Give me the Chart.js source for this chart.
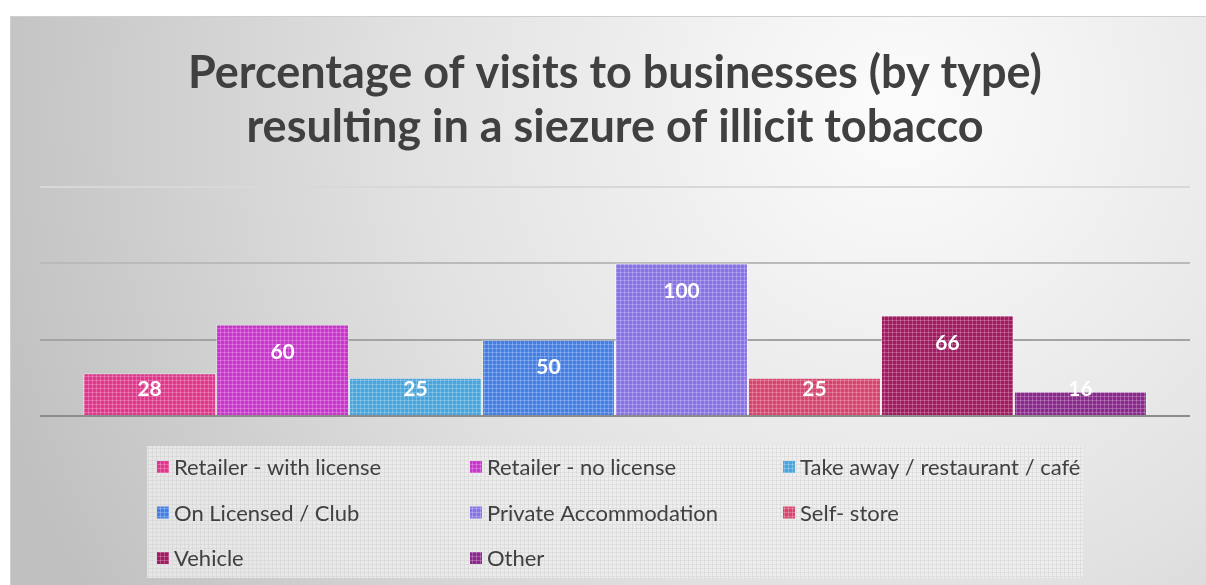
<!DOCTYPE html>
<html>
<head>
<meta charset="utf-8">
<script src="https://cdn.jsdelivr.net/npm/chart.js@4.4.0/dist/chart.umd.min.js"></script>
<style>
  html, body { margin: 0; padding: 0; background: #fff; }
  #wrap { width: 1206px; height: 585px; }
</style>
</head>
<body>
<div id="wrap"><canvas id="seizureChart" width="1206" height="585"></canvas></div>
<script>
// business types and % of visits resulting in a seizure
var businessTypes = ['Retailer - with license', 'Retailer - no license', 'Take away / restaurant / café',
  'On Licensed / Club', 'Private Accommodation', 'Self- store', 'Vehicle', 'Other'];
var seizurePct = [28, 60, 25, 50, 100, 25, 66, 16];
var barColors = ['#e2378d', '#c937cd', '#4aa6de', '#4680e4', '#8874e6', '#d8466f', '#a21c62', '#8b2a8e'];
var titleLines = ['Percentage of visits to businesses (by type)', 'resulting in a siezure of illicit tobacco'];

var FONT = 'Lato, "Open Sans", sans-serif';

// little textured fill like the office "weave" pattern
function makePattern(color) {
  var c = document.createElement('canvas');
  c.width = 4; c.height = 4;
  var g = c.getContext('2d');
  g.fillStyle = color;
  g.fillRect(0, 0, 4, 4);
  g.fillStyle = 'rgba(255,255,255,0.22)';
  g.fillRect(0, 0, 4, 1);
  g.fillRect(0, 0, 1, 4);
  g.fillStyle = 'rgba(0,0,0,0.06)';
  g.fillRect(2, 2, 1, 1);
  return g.createPattern(c, 'repeat');
}

var bgPlugin = {
  id: 'bgFrame',
  beforeDraw: function(chart) {
    var ctx = chart.ctx;
    ctx.save();
    ctx.fillStyle = '#ffffff';
    ctx.fillRect(0, 0, chart.width, chart.height);
    var grad = ctx.createRadialGradient(900, 110, 20, 900, 110, 950);
    grad.addColorStop(0, '#fbfbfb');
    grad.addColorStop(0.5, '#e2e2e2');
    grad.addColorStop(1, '#c0c0c0');
    ctx.fillStyle = grad;
    ctx.fillRect(10, 16, chart.width - 10, chart.height - 16);
    ctx.strokeStyle = '#cfcfcf';
    ctx.lineWidth = 1;
    ctx.beginPath();
    ctx.moveTo(10.5, chart.height);
    ctx.lineTo(10.5, 16.5);
    ctx.lineTo(chart.width, 16.5);
    ctx.stroke();
    ctx.restore();
  }
};

var labelPlugin = {
  id: 'barValues',
  afterDatasetsDraw: function(chart) {
    var ctx = chart.ctx;
    ctx.save();
    ctx.font = 'bold 21px ' + FONT;
    ctx.fillStyle = '#ffffff';
    ctx.textAlign = 'center';
    ctx.textBaseline = 'middle';
    chart.data.datasets.forEach(function(ds, i) {
      var bar = chart.getDatasetMeta(i).data[0];
      var y = Math.min(bar.y + 28, bar.base - 26);
      ctx.fillText(String(ds.data[0]), bar.x, y);
    });
    ctx.restore();
  }
};

var legendFill = (function() {
  var c = document.createElement('canvas');
  c.width = 4; c.height = 4;
  var g = c.getContext('2d');
  g.fillStyle = 'rgba(240,240,240,0.75)';
  g.fillRect(0, 0, 4, 4);
  g.fillStyle = 'rgba(200,200,200,0.35)';
  g.fillRect(0, 0, 4, 1);
  g.fillRect(0, 0, 1, 4);
  return g.createPattern(c, 'repeat');
})();

var legendPlugin = {
  id: 'gridLegend',
  afterDraw: function(chart) {
    var ctx = chart.ctx;
    ctx.save();
    ctx.fillStyle = legendFill;
    ctx.fillRect(147, 446, 936, 132);
    ctx.font = '22px ' + FONT;
    ctx.textBaseline = 'middle';
    ctx.textAlign = 'left';
    chart.data.datasets.forEach(function(ds, i) {
      var col = i % 3, row = Math.floor(i / 3);
      var x = 157 + col * 313;
      var y = 467 + row * 45.5;
      ctx.fillStyle = ds.backgroundColor;
      ctx.fillRect(x, y - 6, 12, 12);
      ctx.fillStyle = '#404040';
      ctx.fillText(ds.label, x + 17, y + 1);
    });
    ctx.restore();
  }
};

var gridColors = { 0: '#8c8c8c', 50: '#a3a3a3', 100: '#bababa', 150: '#d8d8d8' };

var ctx = document.getElementById('seizureChart').getContext('2d');
var chart = new Chart(ctx, {
  type: 'bar',
  data: {
    labels: [''],
    datasets: businessTypes.map(function(name, i) {
      return {
        label: name,
        data: [seizurePct[i]],
        backgroundColor: makePattern(barColors[i]),
        borderColor: 'rgba(255,255,255,0.35)',
        borderWidth: 1,
        categoryPercentage: 0.925,
        barPercentage: 1
      };
    })
  },
  options: {
    responsive: false,
    animation: false,
    layout: { padding: { left: 40, right: 16, top: 0, bottom: 169 } },
    plugins: {
      legend: { display: false },
      tooltip: { enabled: false },
      title: {
        display: true,
        text: titleLines,
        color: '#404040',
        font: { family: FONT, size: 45, weight: 'bold', lineHeight: 1.2 },
        padding: { top: 46, bottom: 33 }
      }
    },
    scales: {
      x: { display: false },
      y: {
        min: 0,
        max: 150,
        ticks: { display: false, stepSize: 50 },
        border: { display: false },
        grid: {
          drawTicks: false,
          lineWidth: 2,
          color: function(c) { return gridColors[c.tick.value] || '#cccccc'; }
        }
      }
    }
  },
  plugins: [bgPlugin, labelPlugin, legendPlugin]
});
</script>
</body>
</html>
